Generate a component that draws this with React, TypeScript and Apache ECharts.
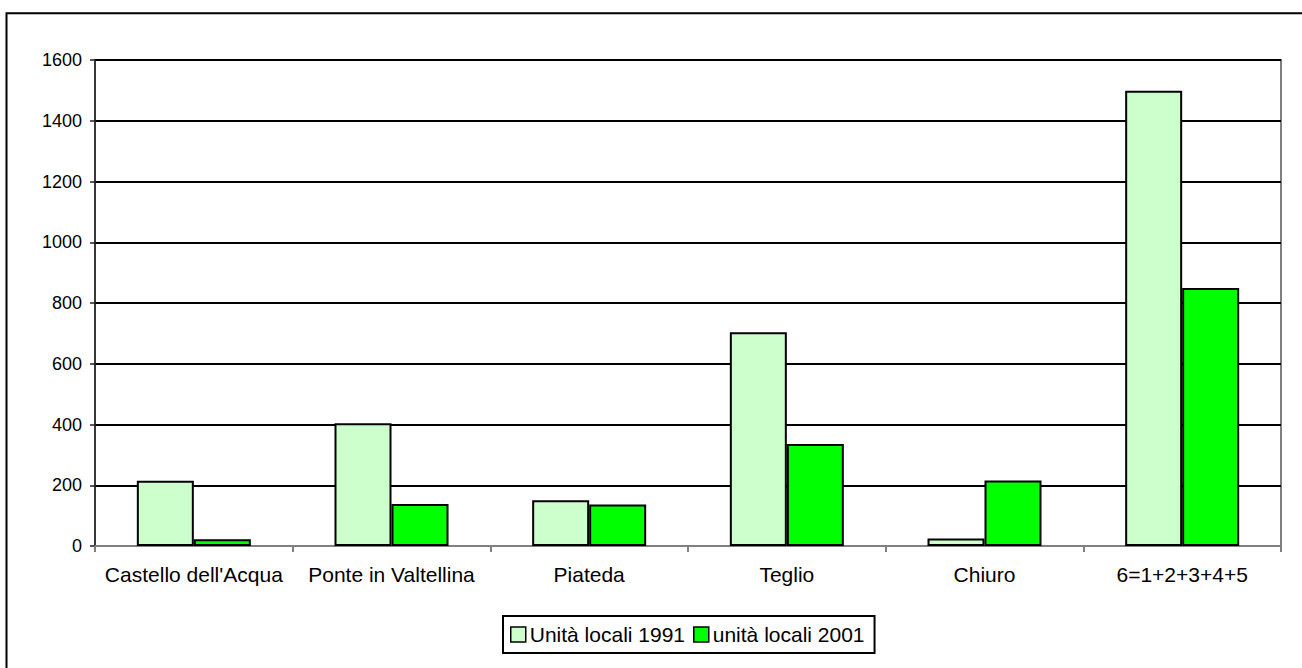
import React, { useEffect, useRef } from "react";
import * as echarts from "echarts";

const categories = [
  "Castello dell'Acqua",
  "Ponte in Valtellina",
  "Piateda",
  "Teglio",
  "Chiuro",
  "6=1+2+3+4+5",
];
const series1991Name = "Unità locali 1991";
const series2001Name = "unità locali 2001";
const values1991 = [215, 404, 151, 704, 25, 1499];
const values2001 = [22, 138, 137, 336, 216, 849];
const yTicks = { min: 0, max: 1600, interval: 200 };

const FONT = "'Liberation Sans', Arial, Helvetica, sans-serif";

export default function App() {
  const ref = useRef<HTMLDivElement>(null);
  useEffect(() => {
    if (!ref.current) return;
    const chart = echarts.init(ref.current, null, { renderer: "svg" });
    chart.setOption({
      animation: false,
      backgroundColor: "#ffffff",
      textStyle: { fontFamily: FONT },
      grid: {
        left: 95,
        top: 60,
        right: 21,
        bottom: 122,
        show: true,
        borderColor: "#808080",
        borderWidth: 2,
        backgroundColor: "transparent",
      },
      legend: {
        left: 503,
        top: 616,
        orient: "horizontal",
        itemWidth: 15,
        itemHeight: 15,
        itemGap: 8,
        padding: [8, 10, 8, 7],
        borderColor: "#000",
        borderWidth: 2,
        textStyle: { fontFamily: FONT, fontSize: 21, color: "#000", padding: [0, 0, 0, -1] },
        icon: "rect",
        itemStyle: { borderColor: "#000", borderWidth: 1.5 },
        data: [series1991Name, series2001Name],
      },
      xAxis: {
        type: "category",
        data: categories,
        axisLine: { show: true, lineStyle: { color: "#808080", width: 2 } },
        axisTick: { show: true, length: 6, lineStyle: { color: "#808080", width: 2 }, alignWithLabel: false },
        axisLabel: { fontFamily: FONT, fontSize: 21, color: "#000", margin: 18, interval: 0 },
        splitLine: { show: false },
      },
      yAxis: {
        type: "value",
        min: yTicks.min,
        max: yTicks.max,
        interval: yTicks.interval,
        axisLine: { show: true, lineStyle: { color: "#202020", width: 1.5 } },
        axisTick: { show: true, inside: false, length: 5, lineStyle: { color: "#202020", width: 1.5 } },
        axisLabel: {
          fontFamily: FONT,
          fontSize: 18,
          color: "#000",
          margin: 13,
          formatter: (v: number) => String(v),
        },
        splitLine: { show: true, lineStyle: { color: "#000", width: 2 } },
      },
      series: [
        {
          name: series1991Name,
          type: "bar",
          data: values1991,
          barWidth: 57,
          barGap: "0%",
          itemStyle: { color: "#CCFFCC", borderColor: "#000", borderWidth: 2 },
        },
        {
          name: series2001Name,
          type: "bar",
          data: values2001,
          barWidth: 57,
          barGap: "0%",
          itemStyle: { color: "#00FF00", borderColor: "#000", borderWidth: 2 },
        },
      ],
      graphic: [
        {
          type: "rect",
          shape: { x: 6.5, y: 13.3, width: 1400, height: 800 },
          style: { fill: "none", stroke: "#000", lineWidth: 2 },
          silent: true,
        },
      ],
    });
    return () => chart.dispose();
  }, []);
  return (
    <div
      ref={ref}
      style={{ position: "fixed", left: 0, top: 0, width: 1302, height: 668, background: "#fff" }}
    />
  );
}
